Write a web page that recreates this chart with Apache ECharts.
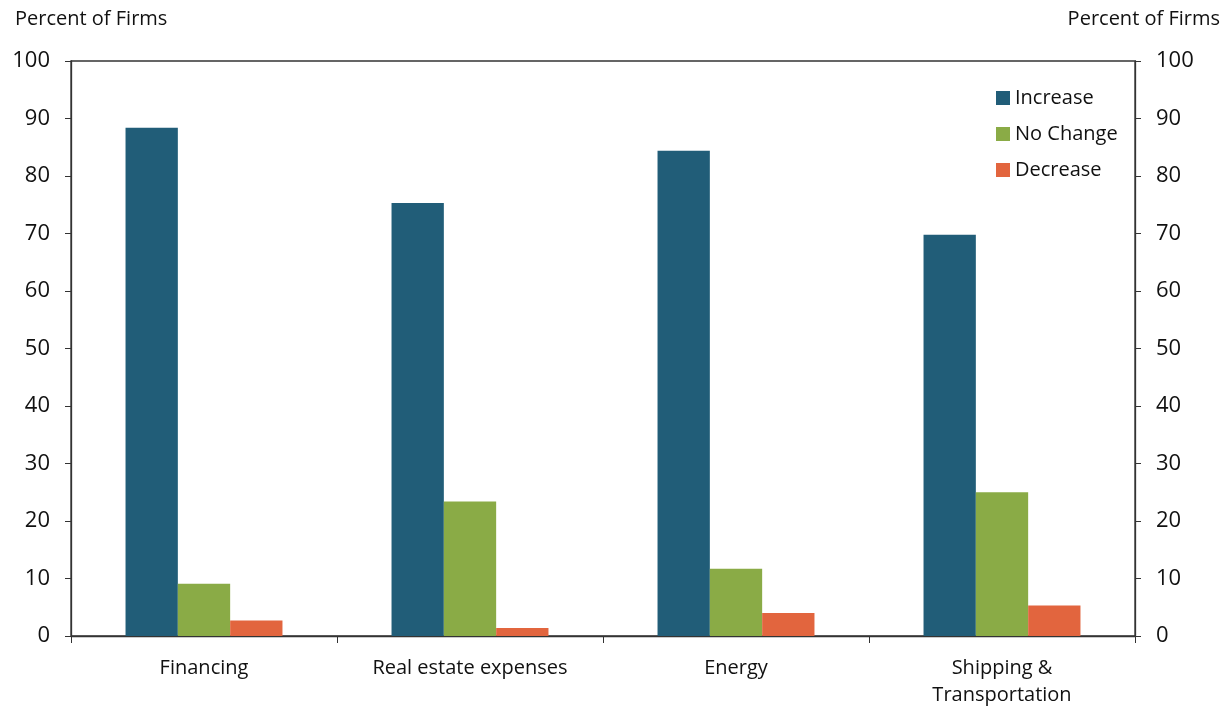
<!DOCTYPE html>
<html><head><meta charset="utf-8">
<script src="https://cdn.jsdelivr.net/npm/echarts@6/dist/echarts.min.js"></script>
<style>html,body{margin:0;padding:0;background:#fff}#c{width:1231px;height:709px}</style>
</head><body><div id="c"></div>
<script>
const categories = ["Financing", "Real estate expenses", "Energy", "Shipping &\nTransportation"];
const increase = [88.4, 75.3, 84.4, 69.8];
const noChange = [9.1, 23.4, 11.7, 25.0];
const decrease = [2.7, 1.4, 4.0, 5.3];
const seriesNames = ["Increase", "No Change", "Decrease"];
const yTicks = { min: 0, max: 100, interval: 10 };
const axisTitle = "Percent of Firms";

const font = "'Open Sans', 'Liberation Sans', sans-serif";
const chart = echarts.init(document.getElementById('c'), null, {renderer: 'canvas'});
const axisLine = { show: true, lineStyle: { color: '#333', width: 1.3 } };
const yAxisBase = {
  type: 'value', min: yTicks.min, max: yTicks.max, interval: yTicks.interval,
  axisLine: axisLine, axisTick: { show: true, length: 6, lineStyle: { color: '#333' } },
  splitLine: { show: false },
  axisLabel: { fontSize: 22, color: '#111', fontFamily: font, margin: 21 }
};
chart.setOption({
  animation: false,
  backgroundColor: '#fff',
  grid: { left: 71, right: 96, top: 61, bottom: 72, show: true, borderColor: '#333', borderWidth: 1.3, containLabel: false },
  graphic: [
    { type: 'text', left: 15, top: 9, style: { text: axisTitle, fontSize: 20, fontFamily: font, fill: '#111' } },
    { type: 'text', right: 11, top: 9, style: { text: axisTitle, fontSize: 20, fontFamily: font, fill: '#111' } }
  ],
  legend: {
    orient: 'vertical', left: 991, top: 83, itemWidth: 14, itemHeight: 14, itemGap: 16,
    icon: 'rect', textStyle: { fontSize: 20, fontFamily: font, color: '#111' },
    data: seriesNames
  },
  xAxis: {
    type: 'category', data: categories,
    axisLine: axisLine,
    axisTick: { show: true, alignWithLabel: false, length: 7, lineStyle: { color: '#333' } },
    axisLabel: { fontSize: 20, color: '#111', fontFamily: font, margin: 19, lineHeight: 27 }
  },
  yAxis: [
    Object.assign({}, yAxisBase, { position: 'left' }),
    Object.assign({}, yAxisBase, { position: 'right' })
  ],
  series: [
    { name: seriesNames[0], type: 'bar', data: increase, itemStyle: { color: '#215D78' }, barGap: '0%', barCategoryGap: '41%' },
    { name: seriesNames[1], type: 'bar', data: noChange, itemStyle: { color: '#8AAB46' }, barGap: '0%', barCategoryGap: '41%' },
    { name: seriesNames[2], type: 'bar', data: decrease, itemStyle: { color: '#E2653E' }, barGap: '0%', barCategoryGap: '41%' }
  ]
});
</script></body></html>
